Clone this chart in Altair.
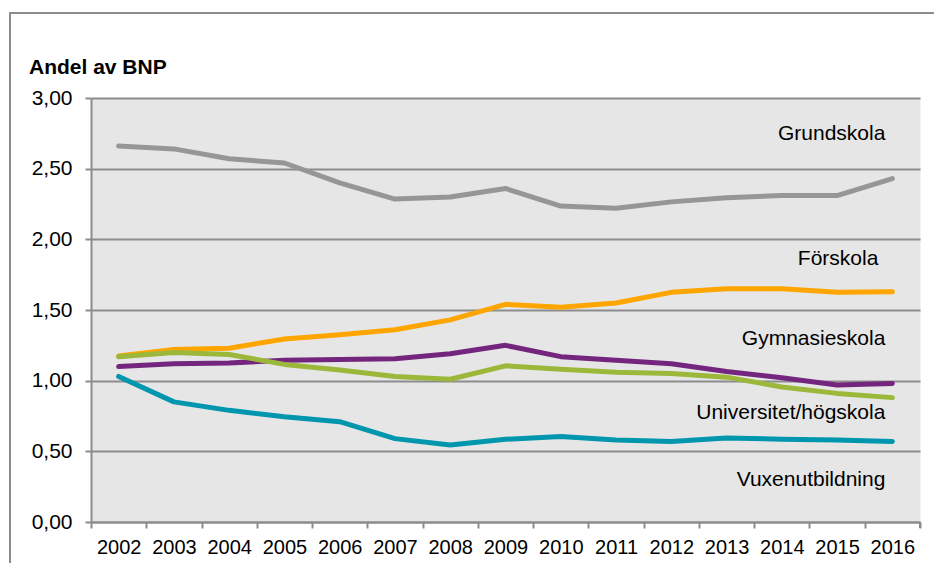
import altair as alt
import pandas as pd

years = [str(y) for y in range(2002, 2017)]

grundskola = [2.66, 2.64, 2.57, 2.54, 2.40, 2.285, 2.30, 2.36, 2.235, 2.22, 2.265, 2.295, 2.31, 2.31, 2.43]
forskola = [1.175, 1.22, 1.23, 1.295, 1.325, 1.36, 1.43, 1.54, 1.52, 1.55, 1.625, 1.65, 1.65, 1.625, 1.63]
gymnasieskola = [1.10, 1.12, 1.125, 1.145, 1.15, 1.155, 1.19, 1.25, 1.17, 1.145, 1.12, 1.065, 1.02, 0.97, 0.98]
universitet = [1.17, 1.20, 1.185, 1.115, 1.075, 1.03, 1.01, 1.105, 1.08, 1.06, 1.05, 1.025, 0.955, 0.91, 0.88]
vuxenutbildning = [1.03, 0.85, 0.79, 0.745, 0.71, 0.59, 0.545, 0.585, 0.605, 0.58, 0.57, 0.595, 0.585, 0.58, 0.57]

series_names = ["Grundskola", "Förskola", "Gymnasieskola", "Universitet/högskola", "Vuxenutbildning"]
series_values = [grundskola, forskola, gymnasieskola, universitet, vuxenutbildning]
series_colors = ["#969696", "#FFA500", "#74267E", "#9BB83A", "#0096AE"]

label_names = ["Grundskola", "Gymnasieskola", "Universitet/högskola", "Vuxenutbildning"]
label_values = [2.745, 1.295, 0.77, 0.30]
forskola_label_value = 1.86

rows = []
for name, vals in zip(series_names, series_values):
    for yr, v in zip(years, vals):
        rows.append({"year": yr, "value": v, "serie": name, "order": series_names.index(name)})
df = pd.DataFrame(rows)

lab_df = pd.DataFrame({"label": label_names, "value": label_values, "year": ["2016"] * len(label_names)})
lab2_df = pd.DataFrame({"label": ["Förskola"], "value": [forskola_label_value], "year": ["2016"]})

FONT = "Liberation Sans"
GRID = "#8c8c8c"

x_enc = alt.X(
    "year:N",
    sort=years,
    bandPosition=0.5,
    scale=alt.Scale(type="band", paddingInner=0, paddingOuter=0),
    axis=alt.Axis(
        title=None,
        labelAngle=0,
        tickBand="extent",
        ticks=True,
        tickSize=6,
        labelPadding=9,
        grid=False,
        domainColor=GRID,
        domainWidth=2,
        tickColor=GRID,
        tickWidth=2,
        labelFont=FONT,
        labelFontSize=20,
        labelColor="#000000",
    ),
)

y_scale = alt.Scale(domain=[0, 3], nice=False, zero=True)
y_enc = alt.Y(
    "value:Q",
    scale=y_scale,
    axis=alt.Axis(
        title=None,
        values=[0, 0.5, 1, 1.5, 2, 2.5, 3],
        labelExpr="replace(format(datum.value, '.2f'), '.', ',')",
        tickSize=6,
        labelPadding=13,
        grid=True,
        gridColor=GRID,
        gridWidth=2,
        domainColor=GRID,
        domainWidth=2,
        tickColor=GRID,
        tickWidth=2,
        labelFont=FONT,
        labelFontSize=21,
        labelColor="#000000",
    ),
)

lines = alt.Chart(df).mark_line(strokeWidth=5, strokeCap="round", strokeJoin="round").encode(
    x=x_enc,
    y=y_enc,
    color=alt.Color("serie:N", scale=alt.Scale(domain=series_names, range=series_colors), legend=None),
    order=alt.Order("order:Q"),
)

labels = alt.Chart(lab_df).mark_text(
    align="right", baseline="middle", dx=-7, font=FONT, fontSize=21, color="#000000"
).encode(
    x=alt.X("year:N", sort=years, bandPosition=0.5),
    y=alt.Y("value:Q"),
    text="label:N",
)

labels2 = alt.Chart(lab2_df).mark_text(
    align="right", baseline="middle", dx=-14, font=FONT, fontSize=21, color="#000000"
).encode(
    x=alt.X("year:N", sort=years, bandPosition=0.5),
    y=alt.Y("value:Q"),
    text="label:N",
)

title = alt.Chart(alt.Data(values=[{"t": "Andel av BNP"}])).mark_text(
    align="left", baseline="middle", font=FONT, fontSize=21, fontWeight="bold", color="#000000"
).encode(
    x=alt.value(-62),
    y=alt.value(-30),
    text="t:N",
)

extra_tick = alt.Chart(alt.Data(values=[{}])).mark_rule(color=GRID, strokeWidth=2).encode(
    x=alt.value(829), y=alt.value(424), y2=alt.value(430)
)

frame = alt.Chart(alt.Data(values=[{}])).mark_rect(
    fillOpacity=0, stroke=GRID, strokeWidth=2
).encode(
    x=alt.value(-81), y=alt.value(-85), x2=alt.value(900), y2=alt.value(600)
)

chart = alt.layer(frame, lines, labels, labels2, title, extra_tick).properties(
    width=829,
    height=424,
    autosize=alt.AutoSizeParams(type="none"),
    padding={"left": 83, "top": 90, "right": 14, "bottom": 41},
).configure_view(fill="#e6e6e6", stroke="transparent")

chart.save("out.html", embed_options={"renderer": "svg", "actions": False})
